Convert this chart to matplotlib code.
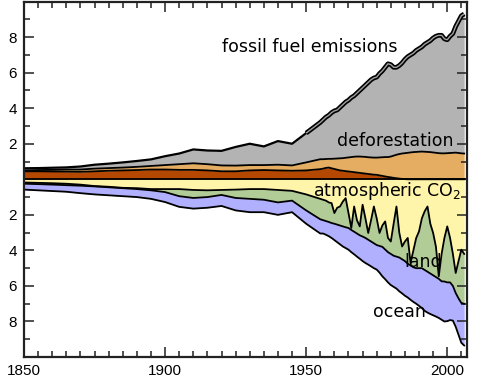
import numpy as np
import matplotlib.pyplot as plt
from matplotlib.ticker import MultipleLocator, FixedLocator, FuncFormatter

# years: 5-yearly up to 1955, then annual
years = list(range(1850, 1956, 5)) + list(range(1956, 2007))

# sources (GtC/yr), stacked upward
brown = [0.45, 0.45, 0.44, 0.43, 0.42, 0.45, 0.48, 0.50, 0.52, 0.55, 0.55,
         0.53, 0.53, 0.50, 0.45, 0.45, 0.50, 0.52, 0.50, 0.48, 0.50, 0.57,
         0.60, 0.64, 0.66, 0.62, 0.58, 0.54, 0.50, 0.48, 0.46, 0.44,
         0.42, 0.40, 0.38, 0.36, 0.34, 0.32, 0.30, 0.28, 0.26, 0.25,
         0.22, 0.19, 0.16, 0.13, 0.11, 0.08, 0.06, 0.04, 0.02, 0.01,
         0, 0, 0, 0, 0, 0, 0, 0, 0, 0,
         0, 0, 0, 0, 0, 0, 0, 0, 0, 0, 0]
deforest = [0.05, 0.07, 0.09, 0.12, 0.13, 0.15, 0.15, 0.16, 0.18, 0.20, 0.25,
            0.32, 0.37, 0.35, 0.33, 0.32, 0.30, 0.28, 0.32, 0.30, 0.45, 0.56,
            0.53, 0.50, 0.49, 0.53, 0.58, 0.63, 0.68, 0.71, 0.75, 0.79,
            0.83, 0.87, 0.90, 0.92, 0.93, 0.94, 0.94, 0.95, 0.96, 0.97,
            1.01, 1.05, 1.09, 1.12, 1.17, 1.25, 1.32, 1.38, 1.43, 1.46,
            1.49, 1.51, 1.53, 1.54, 1.55, 1.56, 1.55, 1.54, 1.53, 1.51,
            1.49, 1.47, 1.46, 1.46, 1.47, 1.48, 1.49, 1.50, 1.48, 1.46, 1.45]
fossil = [0.12, 0.11, 0.12, 0.12, 0.17, 0.22, 0.25, 0.29, 0.33, 0.37, 0.50,
          0.60, 0.78, 0.77, 0.82, 1.05, 1.20, 1.05, 1.33, 1.22, 1.65, 2.07,
          2.22, 2.36, 2.45, 2.60, 2.69, 2.73, 2.87, 3.01, 3.14, 3.22,
          3.35, 3.43, 3.57, 3.72, 3.88, 4.04, 4.21, 4.37, 4.48, 4.53,
          4.72, 4.86, 5.05, 5.25, 5.17, 4.97, 4.92, 4.98, 5.10, 5.28,
          5.41, 5.49, 5.57, 5.71, 5.80, 5.89, 6.05, 6.16, 6.27, 6.44,
          6.56, 6.63, 6.64, 6.44, 6.38, 6.57, 6.71, 7.10, 7.42, 7.74, 7.85]

# sinks (GtC/yr), stacked downward
atm = [0.18, 0.20, 0.22, 0.25, 0.30, 0.38, 0.42, 0.48, 0.50, 0.55, 0.55,
       0.55, 0.60, 0.62, 0.60, 0.58, 0.55, 0.55, 0.60, 0.65, 0.85, 1.10,
       1.15, 1.20, 1.30, 1.34, 1.90, 1.60, 1.53, 1.25, 1.06, 1.90,
       2.74, 1.53, 2.30, 2.65, 1.43, 2.20, 3.02, 2.30, 1.53, 2.20,
       3.02, 2.60, 2.37, 3.30, 3.50, 2.50, 1.53, 3.00, 3.78, 3.50,
       3.30, 4.70, 4.00, 3.30, 2.93, 2.20, 1.80, 1.53, 2.50, 3.02,
       3.80, 5.46, 4.20, 3.30, 2.65, 3.30, 4.20, 5.27, 4.60, 3.96, 4.20]
land = [0.07, 0.07, 0.08, 0.08, 0.06, 0.02, 0.03, 0.02, 0.05, 0.07, 0.17,
        0.40, 0.45, 0.38, 0.28, 0.47, 0.55, 0.60, 0.70, 0.55, 0.90, 1.15,
        1.15, 1.15, 1.10, 1.12, 0.60, 0.95, 1.07, 1.40, 1.64, 0.84,
        0.11, 1.42, 0.75, 0.50, 1.79, 1.10, 0.38, 1.20, 2.07, 1.50,
        0.73, 1.20, 1.58, 0.80, 0.70, 1.80, 2.82, 1.40, 0.72, 1.10,
        1.45, 0.15, 0.95, 1.70, 2.07, 2.80, 3.30, 3.67, 2.80, 2.38,
        1.70, 0.14, 1.54, 2.45, 3.15, 2.50, 1.80, 1.13, 2.10, 3.00, 2.80]
ocean = [0.33, 0.35, 0.36, 0.37, 0.42, 0.45, 0.45, 0.45, 0.45, 0.48, 0.56,
         0.60, 0.60, 0.60, 0.62, 0.70, 0.75, 0.70, 0.70, 0.65, 0.75, 0.80,
         0.75, 0.77, 0.80, 0.84, 0.92, 0.99, 1.06, 1.13, 1.17, 1.22,
         1.25, 1.27, 1.30, 1.32, 1.38, 1.41, 1.40, 1.40, 1.40, 1.38,
         1.50, 1.66, 1.67, 1.70, 1.75, 1.75, 1.80, 1.90, 1.92, 1.95,
         1.90, 1.93, 1.95, 2.00, 2.12, 2.24, 2.30, 2.30, 2.28, 2.25,
         2.22, 2.20, 2.16, 2.25, 2.18, 2.12, 1.95, 1.90, 2.05, 2.24, 2.35]

yrs = np.array(years)
up1 = np.array(brown)
up2 = up1 + np.array(deforest)
up3 = up2 + np.array(fossil)
lo1 = -np.array(atm)
lo2 = lo1 - np.array(land)
lo3 = lo2 - np.array(ocean)

fig = plt.figure(figsize=(5, 3.86), dpi=100)
ax = fig.add_axes([0.048, 0.075, 0.886, 0.921])

ax.fill_between(yrs, 0, up1, color='#b44800', lw=0)
ax.fill_between(yrs, up1, up2, color='#e4ad62', lw=0)
ax.fill_between(yrs, up2, up3, color='#b3b3b3', lw=0)
ax.fill_between(yrs, 0, lo1, color='#fff5aa', lw=0)
ax.fill_between(yrs, lo1, lo2, color='#b2cc98', lw=0)
ax.fill_between(yrs, lo2, lo3, color='#b0b0ff', lw=0)

for b in [up1, up2, lo1, lo2, lo3]:
    ax.plot(yrs, b, color='black', lw=1.3)
ax.axhline(0, color='black', lw=1.3)

# fossil fuel top line, drawn as double line after 1950
k = years.index(1950)
ax.plot(yrs[:k + 1], up3[:k + 1], color='black', lw=1.6)
ax.plot(yrs[k:], up3[k:], color='black', lw=3.4, solid_capstyle='butt')
ax.plot(yrs[k:], up3[k:], color='#a0a0a0', lw=1.0, solid_capstyle='butt')

ax.set_xlim(1850, 2007)
ax.set_ylim(-10, 10)

ax.xaxis.set_major_locator(FixedLocator([1850, 1900, 1950, 2000]))
ax.xaxis.set_minor_locator(MultipleLocator(5))
ax.yaxis.set_major_locator(FixedLocator([-8, -6, -4, -2, 2, 4, 6, 8]))
ax.yaxis.set_minor_locator(FixedLocator([-9, -7, -5, -3, -1, 1, 3, 5, 7, 9]))
ax.yaxis.set_major_formatter(FuncFormatter(lambda v, p: '%d' % abs(v)))
ax.tick_params(which='both', direction='in', top=True, right=True,
               labelsize=11, width=1.1, color='#222222')
ax.tick_params(which='major', length=7, pad=5)
ax.tick_params(which='minor', length=4)
for lab in ax.get_xticklabels() + ax.get_yticklabels():
    lab.set_fontfamily('Liberation Sans')
for s in ax.spines.values():
    s.set_linewidth(1.6)
    s.set_color('#222222')

tk = dict(fontsize=12.5, family='DejaVu Sans', ha='center', va='center')
ax.text(1951.4, 7.45, 'fossil fuel emissions', **tk)
ax.text(1981.6, 2.15, 'deforestation', **tk)
ax.text(1978.7, -0.68, 'atmospheric CO$_2$', **tk)
ax.text(1991.5, -4.65, 'land', **tk)
ax.text(1983.0, -7.45, 'ocean', **tk)

fig.savefig('out.png', dpi=100)
